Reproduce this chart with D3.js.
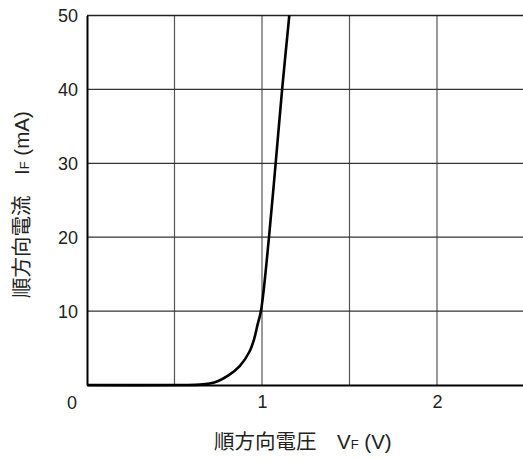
<!DOCTYPE html>
<html><head><meta charset="utf-8">
<script src="https://cdn.jsdelivr.net/npm/d3@7/dist/d3.min.js"></script>
<style>
html,body{margin:0;padding:0;background:#fff;overflow:hidden;}
svg text{font-family:"Liberation Sans",Arial,"Noto Sans CJK JP",sans-serif;}
</style></head>
<body><svg id="c" width="523" height="459"></svg>
<script>
const voltage = [0, 0.55, 0.646, 0.70, 0.75, 0.808, 0.874, 0.928, 0.956, 0.975, 0.994, 1.04, 1.078, 1.115, 1.156];
const current = [0, 0, 0.05, 0.2, 0.55, 1.3, 2.6, 4.5, 6.3, 8.2, 10, 20, 30, 40, 50];
const xTicks = [1, 2];
const yTicks = [10, 20, 30, 40, 50];
const xGrid = [0.5, 1, 1.5, 2, 2.5];
const yGrid = [10, 20, 30, 40];

const svg = d3.select("#c");
const x = d3.scaleLinear().domain([0, 2.5]).range([87, 524.5]);
const y = d3.scaleLinear().domain([0, 50]).range([385, 15.5]);

// grid
svg.append("g").selectAll("line").data(xGrid).join("line")
  .attr("x1", d => x(d)).attr("x2", d => x(d)).attr("y1", y(0)).attr("y2", y(50))
  .attr("stroke", "#555").attr("stroke-width", 1.2);
svg.append("g").selectAll("line").data(yGrid).join("line")
  .attr("x1", x(0)).attr("x2", x(2.5)).attr("y1", d => y(d)).attr("y2", d => y(d))
  .attr("stroke", "#333").attr("stroke-width", 1.2);
// top border
svg.append("line").attr("x1", x(0)).attr("x2", x(2.5)).attr("y1", y(50)).attr("y2", y(50))
  .attr("stroke", "#222").attr("stroke-width", 1.6);

// axes
const xAxis = d3.axisBottom(x).tickValues(xTicks).tickSize(0).tickFormat(d3.format("d"));
const gx = svg.append("g").attr("transform", `translate(0,${y(0)})`).call(xAxis);
gx.select(".domain").attr("stroke", "#000").attr("stroke-width", 2);
gx.selectAll("text").attr("font-size", 18).attr("fill", "#222").attr("dy", "0").attr("y", 23);

const yAxis = d3.axisLeft(y).tickValues(yTicks).tickSize(0).tickFormat(d3.format("d"));
const gy = svg.append("g").attr("transform", `translate(${x(0)},0)`).call(yAxis);
gy.select(".domain").attr("stroke", "#000").attr("stroke-width", 2);
gy.selectAll("text").attr("font-size", 18).attr("fill", "#222").attr("x", -9).attr("dy", "0.36em");

svg.append("text").attr("x", 77).attr("y", 408.5).attr("text-anchor", "end")
  .attr("font-size", 18).attr("fill", "#222").text("0");

// curve
const line = d3.line().x((d, i) => x(voltage[i])).y((d, i) => y(current[i])).curve(d3.curveCatmullRom.alpha(0.5));
svg.append("path").datum(current).attr("d", line)
  .attr("fill", "none").attr("stroke", "#000").attr("stroke-width", 2.6);

// titles
const xt = svg.append("text").attr("x", 214).attr("y", 448.5).attr("font-size", 20.5).attr("fill", "#222");
xt.append("tspan").text("順方向電圧　V");
xt.append("tspan").attr("font-size", 13).text("F");
xt.append("tspan").text(" (V)");

const yt = svg.append("text").attr("transform", "translate(29,298) rotate(-90)").attr("font-size", 20.5).attr("fill", "#222");
yt.append("tspan").text("順方向電流　I");
yt.append("tspan").attr("font-size", 13).text("F");
yt.append("tspan").text(" (mA)");
</script></body></html>
